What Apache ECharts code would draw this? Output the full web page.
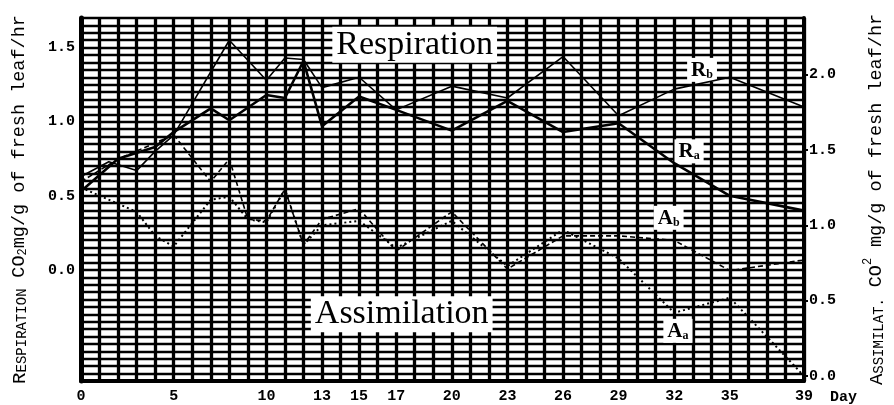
<!DOCTYPE html>
<html>
<head>
<meta charset="utf-8">
<script src="https://cdn.jsdelivr.net/npm/echarts@6/dist/echarts.min.js"></script>
<style>
html,body{margin:0;padding:0;background:#fff;}
#chart{width:894px;height:405px;}
</style>
</head>
<body>
<div id="chart"></div>
<script>
// ---- data ----
const dayLabels = [0, 5, 10, 13, 15, 17, 20, 23, 26, 29, 32, 35, 39];
const respirationTicks = [0, 0.5, 1.0, 1.5];
const assimilationTicks = [0, 0.5, 1.0, 1.5, 2.0];

// Respiration (left axis), [day, CO2 mg/g/hr]
const raPoints = [[0,0.53],[2,0.75],[4,0.83],[5,0.93],[7,1.09],[8,1.01],[10,1.18],[11,1.16],[12,1.41],[13,0.97],[15,1.17],[17,1.08],[20,0.94],[23,1.14],[26,0.93],[29,0.99],[32,0.72],[35,0.50],[39,0.40]];
const rbPoints = [[0,0.63],[1.5,0.73],[3,0.67],[4,0.80],[5,0.91],[8,1.55],[10,1.28],[11,1.43],[12,1.42],[13,1.23],[15,1.30],[17,1.08],[20,1.24],[23,1.16],[26,1.44],[29,1.04],[32,1.22],[35,1.30],[39,1.10]];

// Assimilation (right axis), [day, CO2 mg/g/hr]
const abPoints = [[0,1.29],[2,1.44],[5,1.60],[7,1.29],[8,1.44],[9,1.04],[10,1.03],[11,1.24],[12,0.87],[13,1.04],[15,1.11],[17,0.83],[20,1.09],[23,0.71],[26,0.93],[29,0.93],[32,0.90],[35,0.70],[39,0.77]];
const aaPoints = [[0,1.25],[3,1.09],[4,0.93],[5,0.86],[7,1.17],[8,1.19],[9,1.04],[10,1.02],[11,1.24],[12,0.87],[13,1.00],[15,1.03],[17,0.85],[20,1.03],[23,0.73],[26,0.97],[29,0.78],[32,0.42],[35,0.52],[39,0.0]];

// ---- annotation anchors (in axis units) ----
const notes = {
  respiration: [18.0, 1.52],
  assimilation: [17.3, -0.30],
  rb: [33.5, 1.35],
  ra: [32.8, 0.80],
  ab: [31.7, 1.05],
  aa: [32.2, 0.30]
};

const numFont = 'Liberation Mono';
const titleFont = 'Liberation Mono';
const serif = 'Liberation Serif';

function noteItem(coord, text, rich, fontSize) {
  return {
    coord: coord,
    symbol: 'rect',
    symbolSize: 1,
    itemStyle: { color: 'rgba(0,0,0,0)' },
    label: {
      show: true,
      position: 'inside',
      formatter: text,
      color: '#000',
      fontFamily: serif,
      fontSize: fontSize,
      backgroundColor: '#fff',
      padding: [1, 4],
      rich: rich || {}
    }
  };
}

const subRich = {
  r: { fontFamily: serif, fontWeight: 'bold', fontSize: 21, color: '#000', verticalAlign: 'bottom', lineHeight: 22 },
  s: { fontFamily: serif, fontWeight: 'bold', fontSize: 12, color: '#000', verticalAlign: 'bottom', lineHeight: 18 }
};

const chart = echarts.init(document.getElementById('chart'), null, { renderer: 'canvas' });

const option = {
  animation: false,
  backgroundColor: '#fff',
  grid: { left: 80, right: 82, top: 18, bottom: 22, containLabel: false },
  xAxis: {
    type: 'value',
    min: 0,
    max: 39,
    interval: 1,
    axisLine: { show: true, onZero: false, lineStyle: { color: '#000', width: 4 } },
    axisTick: { show: false },
    axisLabel: {
      customValues: dayLabels,
      formatter: v => String(v),
      margin: 8,
      color: '#000',
      fontFamily: numFont,
      fontWeight: 'bold',
      fontSize: 15
    },
    splitLine: { show: true, lineStyle: { color: '#000', width: 3.3 } },
    name: 'Day',
    nameLocation: 'end',
    nameGap: 26,
    nameTextStyle: {
      color: '#000', fontFamily: numFont, fontWeight: 'bold', fontSize: 15,
      verticalAlign: 'top', align: 'left', padding: [9, 0, 0, 0]
    }
  },
  yAxis: [
    {
      type: 'value',
      position: 'left',
      min: -0.75,
      max: 1.7,
      interval: 0.05,
      axisLine: { show: true, onZero: false, lineStyle: { color: '#000', width: 5 } },
      axisTick: { show: false },
      axisLabel: {
        customValues: respirationTicks,
        formatter: v => v.toFixed(1),
        margin: 6,
        color: '#000',
        fontFamily: numFont,
        fontWeight: 'bold',
        fontSize: 15
      },
      splitLine: { show: true, lineStyle: { color: '#000', width: 2.3 } },
      name: '{big|R}{sc|ESPIRATION} {n|CO}{sub|2}{n|mg/g of fresh leaf/hr}',
      nameLocation: 'middle',
      nameRotate: 90,
      nameGap: 52,
      nameTextStyle: {
        color: '#000', fontFamily: titleFont, fontSize: 18,
        rich: {
          big: { fontFamily: titleFont, fontSize: 19, color: '#000', verticalAlign: 'bottom', lineHeight: 24 },
          sc: { fontFamily: titleFont, fontSize: 14, color: '#000', verticalAlign: 'bottom', lineHeight: 24 },
          n: { fontFamily: titleFont, fontSize: 18.5, color: '#000', verticalAlign: 'bottom', lineHeight: 24 },
          sub: { fontFamily: titleFont, fontSize: 12, color: '#000', verticalAlign: 'bottom', lineHeight: 20 }
        }
      }
    },
    {
      type: 'value',
      position: 'right',
      min: -0.033,
      max: 2.376,
      axisLine: { show: true, onZero: false, lineStyle: { color: '#000', width: 4 } },
      axisTick: { show: true, customValues: assimilationTicks, length: 4, lineStyle: { color: '#000', width: 2 } },
      axisLabel: {
        customValues: assimilationTicks,
        formatter: v => v.toFixed(1),
        margin: 5,
        color: '#000',
        fontFamily: numFont,
        fontWeight: 'bold',
        fontSize: 15
      },
      splitLine: { show: false },
      name: '{big|A}{sc|SSIMILAT.} {n|CO}{sup|2} {n|mg/g of fresh leaf/hr}',
      nameLocation: 'middle',
      nameRotate: 90,
      nameGap: 58,
      nameTextStyle: {
        color: '#000', fontFamily: titleFont, fontSize: 18,
        rich: {
          big: { fontFamily: titleFont, fontSize: 19, color: '#000', verticalAlign: 'bottom', lineHeight: 24 },
          sc: { fontFamily: titleFont, fontSize: 14, color: '#000', verticalAlign: 'bottom', lineHeight: 24 },
          n: { fontFamily: titleFont, fontSize: 18.5, color: '#000', verticalAlign: 'bottom', lineHeight: 24 },
          sup: { fontFamily: titleFont, fontSize: 12, color: '#000', verticalAlign: 'top', lineHeight: 24 }
        }
      }
    }
  ],
  series: [
    {
      name: 'Ra',
      type: 'line',
      yAxisIndex: 0,
      data: raPoints,
      symbol: 'none',
      lineStyle: { color: '#000', width: 2.6 },
      z: 5,
      markPoint: {
        silent: true,
        data: [
          noteItem(notes.respiration, 'Respiration', null, 34),
          noteItem(notes.assimilation, 'Assimilation', null, 34),
          noteItem(notes.ra, '{r|R}{s|a}', subRich, 20)
        ]
      }
    },
    {
      name: 'Rb',
      type: 'line',
      yAxisIndex: 0,
      data: rbPoints,
      symbol: 'none',
      lineStyle: { color: '#000', width: 1.6 },
      z: 5,
      markPoint: {
        silent: true,
        data: [ noteItem(notes.rb, '{r|R}{s|b}', subRich, 20) ]
      }
    },
    {
      name: 'Ab',
      type: 'line',
      yAxisIndex: 1,
      data: abPoints,
      symbol: 'none',
      lineStyle: { color: '#000', width: 1.6, type: [5, 3] },
      z: 5,
      markPoint: {
        silent: true,
        data: [ noteItem(notes.ab, '{r|A}{s|b}', subRich, 20) ]
      }
    },
    {
      name: 'Aa',
      type: 'line',
      yAxisIndex: 1,
      data: aaPoints,
      symbol: 'none',
      lineStyle: { color: '#000', width: 2, type: [2, 3] },
      z: 5,
      markPoint: {
        silent: true,
        data: [ noteItem(notes.aa, '{r|A}{s|a}', subRich, 20) ]
      }
    }
  ]
};

chart.setOption(option);
</script>
</body>
</html>
